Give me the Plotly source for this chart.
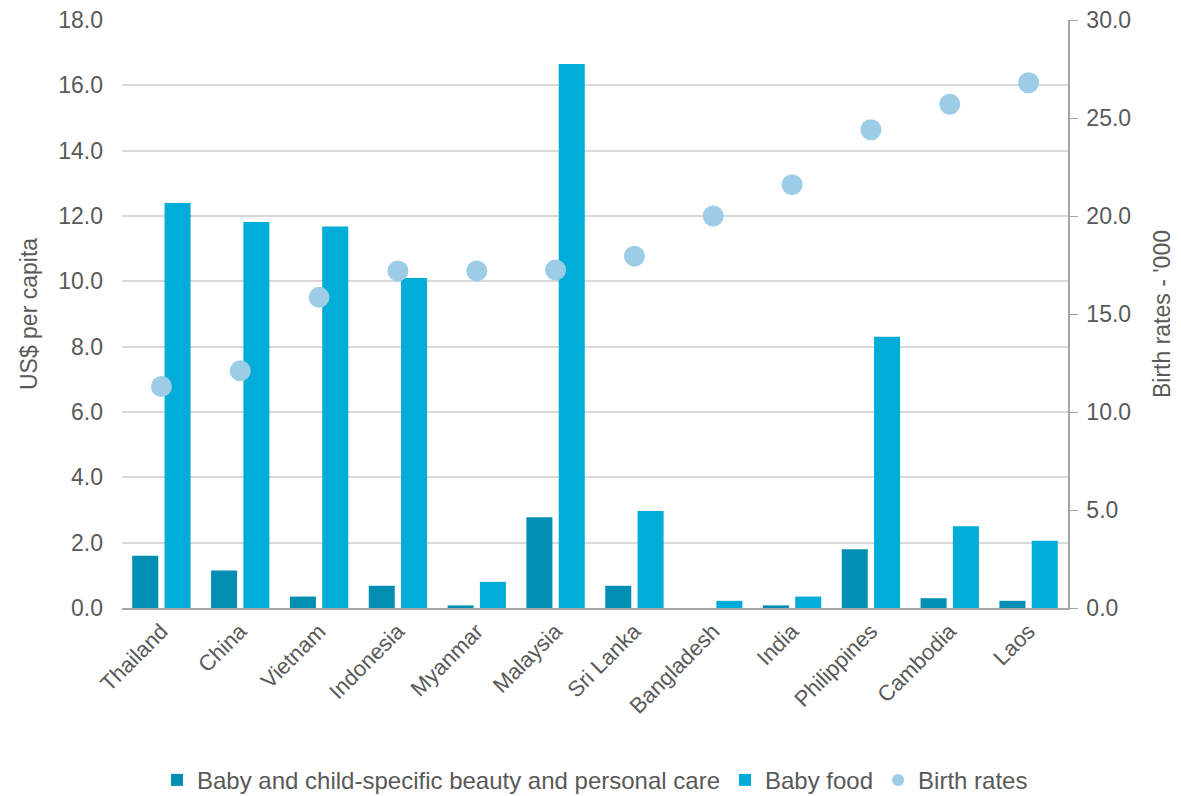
import plotly.graph_objects as go

countries = ["Thailand", "China", "Vietnam", "Indonesia", "Myanmar", "Malaysia",
             "Sri Lanka", "Bangladesh", "India", "Philippines", "Cambodia", "Laos"]
beauty_care = [1.60, 1.15, 0.35, 0.68, 0.08, 2.78, 0.68, 0.0, 0.08, 1.80, 0.30, 0.22]
baby_food = [12.40, 11.82, 11.68, 10.10, 0.80, 16.65, 2.97, 0.22, 0.35, 8.30, 2.50, 2.06]
birth_rates = [11.3, 12.1, 15.85, 17.2, 17.2, 17.25, 17.95, 20.0, 21.6, 24.4, 25.7, 26.8]

FONT = "Liberation Sans, Arial, sans-serif"
TXT = "#595959"
FS = 23

fig = go.Figure()
fig.add_trace(go.Bar(x=countries, y=beauty_care,
                     name="Baby and child-specific beauty and personal care",
                     marker=dict(color="#008EB3", line=dict(width=0))))
fig.add_trace(go.Bar(x=countries, y=baby_food, name="Baby food",
                     marker=dict(color="#00ADD8", line=dict(width=0))))
fig.add_trace(go.Scatter(x=countries, y=birth_rates, name="Birth rates", yaxis="y2",
                         mode="markers", marker=dict(color="#9DCDE6", size=21)))

fig.update_layout(
    width=1181, height=796,
    margin=dict(l=122, r=113, t=20, b=188, autoexpand=False),
    paper_bgcolor="white", plot_bgcolor="white",
    font=dict(family=FONT, size=FS, color=TXT),
    barmode="group", bargap=0.18, bargroupgap=0.195,
    showlegend=True,
    legend=dict(orientation="h", x=0.5, xanchor="center", y=-0.293, yanchor="middle",
                font=dict(family=FONT, size=24, color=TXT),
                itemsizing="constant", itemwidth=30, tracegroupgap=0),
    xaxis=dict(tickangle=-45, showline=True, linecolor="#A6A6A6", linewidth=1.5,
               ticks="", showgrid=False, automargin=False,
               range=[-0.5, len(countries) - 0.5],
               tickfont=dict(family=FONT, size=22, color=TXT)),
    yaxis=dict(range=[0, 18], dtick=2, tickformat=".1f", showgrid=True,
               gridcolor="#D9D9D9", gridwidth=1.5, zeroline=False, showline=False,
               ticks="", ticklen=0, automargin=False, ticklabelstandoff=18,
               title=dict(text="US$ per capita", standoff=14,
                          font=dict(family=FONT, size=FS, color=TXT)),
               tickfont=dict(family=FONT, size=FS, color=TXT)),
    yaxis2=dict(range=[0, 30], dtick=5, tickformat=".1f", overlaying="y", side="right",
                showgrid=False, zeroline=False, showline=True, linecolor="#A6A6A6",
                linewidth=1.5, ticks="outside", ticklen=8, tickcolor="#A6A6A6",
                automargin=False, ticklabelstandoff=4,
                title=dict(text="Birth rates - '000", standoff=24,
                           font=dict(family=FONT, size=FS, color=TXT)),
                tickfont=dict(family=FONT, size=FS, color=TXT)),
)

fig.write_html("out.html")
